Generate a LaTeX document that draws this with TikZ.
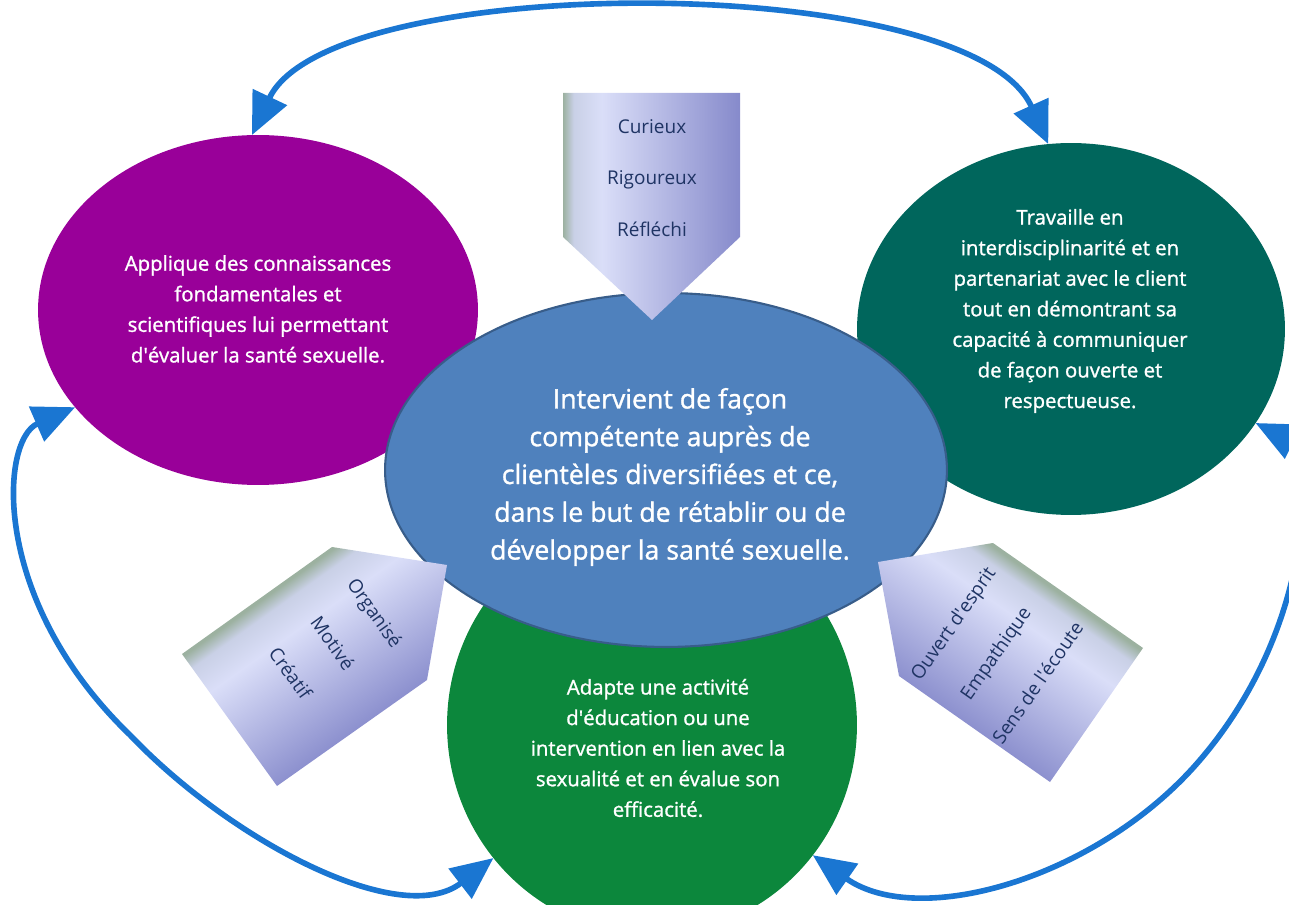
\documentclass[tikz,border=0pt]{standalone}
\usepackage{fontspec}
\setmainfont{Open Sans}
\newfontfamily\wf{Open Sans}[FakeBold=1.2]
\usetikzlibrary{shapes.geometric,arrows.meta}
\definecolor{cpurple}{HTML}{990099}
\definecolor{cteal}{HTML}{00665C}
\definecolor{cgreen}{HTML}{0C873C}
\definecolor{cblue}{HTML}{4F81BD}
\definecolor{cblueb}{HTML}{385D8A}
\definecolor{carrow}{HTML}{1A76D2}
\definecolor{ctext}{HTML}{1F3464}
\definecolor{pg0}{HTML}{9CB1A0}
\definecolor{pg1}{HTML}{C9D0E6}
\definecolor{pg2}{HTML}{DADEF8}
\definecolor{pg3}{HTML}{868ACB}
\pgfdeclarehorizontalshading{pentA}{100bp}{color(0bp)=(pg0); color(25bp)=(pg0); color(28bp)=(pg1); color(36bp)=(pg2); color(75bp)=(pg3); color(100bp)=(pg3)}
\pgfdeclarehorizontalshading{pentB}{100bp}{color(0bp)=(pg0); color(33bp)=(pg0); color(36bp)=(pg1); color(42bp)=(pg2); color(67bp)=(pg3); color(100bp)=(pg3)}
\begin{document}
\begin{tikzpicture}[x=0.02cm,y=-0.02cm,
  ell/.style={ellipse, inner sep=0pt, outer sep=0pt, draw=none},
  wtext/.style={text=white, align=center, font=\wf\fontsize{11.6}{17.4}\selectfont},
  btext/.style={text=white, align=center, font=\wf\fontsize{15.2}{21.5}\selectfont},
  ptext/.style={text=ctext, align=center, font=\fontsize{10.8}{29.5}\selectfont},
  arc/.style={draw=carrow, line width=3.2pt, {Triangle[length=24pt,width=21pt]}-{Triangle[length=24pt,width=21pt]}}
]
\useasboundingbox (0,0) rectangle (1289,905);
\clip (0,0) rectangle (1289,905);

% ellipses
\node[ell, fill=cpurple, minimum width=8.8cm, minimum height=7cm] (purple) at (258,310) {};
\node[ell, fill=cteal, minimum width=8.56cm, minimum height=7.44cm] (teal) at (1071,329) {};
\node[ell, fill=cgreen, minimum width=8.2cm, minimum height=8.4cm] (green) at (652,725) {};
\node[ell, fill=cblue, draw=cblueb, line width=1.2pt, minimum width=11.24cm, minimum height=7.08cm] (blue) at (666,470) {};

% texts
\node[wtext] (tpurple) at (258,309) {Applique des connaissances\\fondamentales et\\scientifiques lui permettant\\d\textquotesingle évaluer la santé sexuelle.};
\node[wtext] (tteal) at (1070,311) {Travaille en\\interdisciplinarité et en\\partenariat avec le client\\tout en démontrant sa\\capacité à communiquer\\de façon ouverte et\\respectueuse.};
\node[wtext] (tgreen) at (658,748) {Adapte une activité\\d\textquotesingle éducation ou une\\intervention en lien avec la\\sexualité et en évalue son\\efficacité.};
\node[btext] (tblue) at (670,477) {Intervient de façon\\compétente auprès de\\clientèles diversifiées et ce,\\dans le but de rétablir ou de\\développer la santé sexuelle.};

% pentagon arrows
\path[shading=pentA, shading angle=0] (563,93) -- (740,93) -- (740,237) -- (652,320) -- (563,237) -- cycle;
\node[ptext] (ttop) at (652,178) {Curieux\\Rigoureux\\Réfléchi};

\path[shading=pentB, shading angle=-54.5] (182,654) -- (332,547) -- (447,565) -- (427,680) -- (277,786) -- cycle;
\node[ptext, rotate=-54.5] (tleft) at (333,643) {Organisé\\Motivé\\Créatif};

\path[shading=pentB, shading angle=-125] (1143,648) -- (993,543) -- (878,562) -- (899,676) -- (1050,782) -- cycle;
\node[ptext, rotate=55] (tright) at (995,653) {Ouvert d\textquotesingle esprit\\Empathique\\Sens de l\textquotesingle écoute};

% connectors
\draw[arc] (purple.92) .. controls (330,-30) and (970,-30) .. (teal.97);
\draw[arc] (purple.208) .. controls (0,440) and (-10,600) .. (130,735) .. controls (230,840) and (400,930) .. (green.220);
\draw[arc] (teal.333) .. controls (1310,450) and (1320,620) .. (1200,760) .. controls (1100,877) and (920,930) .. (green.321);
\end{tikzpicture}
\end{document}
